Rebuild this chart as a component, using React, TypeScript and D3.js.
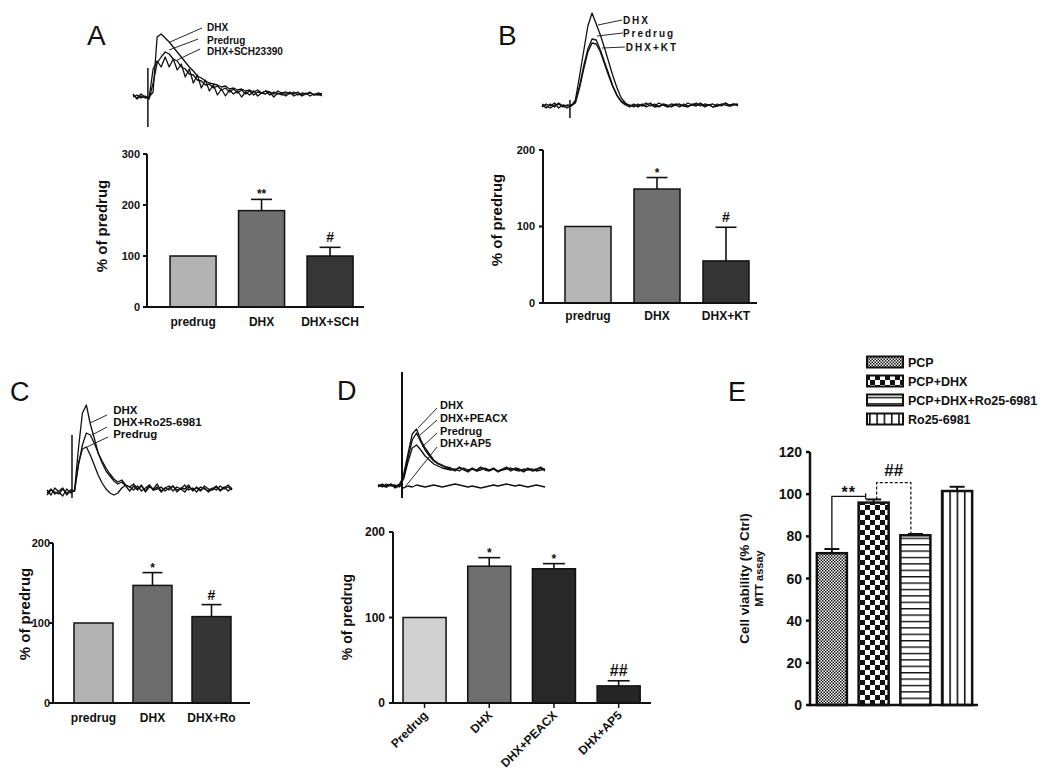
import React from 'react';
import * as d3 from 'd3';

const FONT = "'Liberation Sans', Arial, Helvetica, sans-serif";

// ---------------- DATA ----------------
// Panel A traces (amplitude, arbitrary units, evenly sampled)
const traceA_DHX = [3,-2,1,-1,0,5,60,63,59,55,50,45,40,35,30,26,21,19,16,14,13,12,10,11,8,9,7,8,6,7,5,7,4,6,5,3,6,4,5,3,5,2,4,3,5,2,4,3];
const traceA_Pre = [2,-1,3,0,-2,14,34,40,45,43,38,36,30,28,23,22,17,16,12,13,9,11,7,9,5,8,4,7,3,6,2,5,4,6,2,5,3,4,1,4,3,5,1,3,4,2,3,1];
const traceA_SCH = [0,2,-1,1,-1,28,36,30,40,30,38,27,33,20,28,14,22,9,17,6,12,2,8,1,7,3,6,0,5,2,6,1,4,3,5,0,4,2,3,5,1,3,2,4,1,3,2,3];
const labelsA = ['DHX', 'Predrug', 'DHX+SCH23390'];

const traceB_DHX = [1,-2,2,-1,3,0,-2,0,6,30,55,80,93,82,71,58,44,30,18,8,3,0,2,-1,1,3,0,2,-1,1,0,2,1,-1,2,0,1,3,0,2,1,-1,2,0,3,1,2,0];
const traceB_Pre = [-1,2,0,3,-2,1,0,1,4,20,40,57,67,66,56,44,32,20,11,5,2,1,-1,2,0,1,3,-1,0,2,1,-1,1,2,0,3,1,0,2,-1,1,2,0,1,3,0,1,2];
const traceB_KT = [2,0,-2,1,2,-1,1,0,3,18,37,54,63,62,54,42,30,19,10,4,1,-1,1,0,2,-1,1,0,3,1,-1,0,2,1,0,-1,2,1,3,0,1,-1,0,2,1,0,2,1];
const labelsB = ['DHX', 'Predrug', 'DHX+KT'];

const traceC_DHX = [3,-2,5,1,-3,4,0,3,45,80,88,69,55,40,30,22,17,12,9,11,7,2,7,3,8,1,6,4,9,2,5,3,7,1,5,4,8,2,6,3,5,1,4,7,3,6,2,5];
const traceC_Ro = [0,4,-1,2,5,-2,3,2,28,48,60,58,50,40,32,25,19,14,11,13,8,6,9,4,7,2,8,3,6,1,5,7,2,6,4,8,3,5,1,6,4,2,5,3,7,4,6,3];
const traceC_Pre = [-2,3,1,-1,4,0,2,2,30,44,46,38,28,18,10,4,0,-2,0,5,8,6,3,7,2,5,8,3,4,6,2,5,7,3,4,1,6,3,5,2,7,4,3,6,2,5,8,4];
const labelsC = ['DHX', 'DHX+Ro25-6981', 'Predrug'];

const traceD_DHX = [1,-1,2,0,1,-1,12,32,52,57,46,38,32,26,23,21,19,18,16,19,17,15,18,16,19,17,16,18,15,17,19,16,18,17,15,18,16,17,19,16];
const traceD_PEACX = [0,2,-1,1,-1,2,9,28,46,53,44,36,30,25,22,20,18,17,15,18,16,14,17,15,18,16,15,17,14,16,18,15,17,16,14,17,15,16,18,15];
const traceD_Pre = [-1,1,0,2,-2,0,7,24,38,41,36,30,26,22,20,18,17,16,17,15,18,16,17,15,16,18,16,17,15,16,17,18,16,15,17,16,17,15,16,17];
const traceD_AP5 = [1,0,-1,2,0,1,-2,0,-1,1,0,-1,0,1,0,-1,0,1,2,1,0,-1,0,-1,-2,-1,0,1,0,1,2,1,0,1,0,-1,0,1,0,-1];
const labelsD = ['DHX', 'DHX+PEACX', 'Predrug', 'DHX+AP5'];

// Bar charts
const catsA = ['predrug', 'DHX', 'DHX+SCH'];
const valsA = [100, 189, 100];
const errsA = [0, 22, 17];
const sigsA = ['', '**', '#'];

const catsB = ['predrug', 'DHX', 'DHX+KT'];
const valsB = [100, 149, 55];
const errsB = [0, 15, 44];
const sigsB = ['', '*', '#'];

const catsC = ['predrug', 'DHX', 'DHX+Ro'];
const valsC = [100, 147, 108];
const errsC = [0, 16, 15];
const sigsC = ['', '*', '#'];

const catsD = ['Predrug', 'DHX', 'DHX+PEACX', 'DHX+AP5'];
const valsD = [100, 160, 157, 20];
const errsD = [0, 10, 6, 6];
const sigsD = ['', '*', '*', '##'];

const catsE = ['PCP', 'PCP+DHX', 'PCP+DHX+Ro25-6981', 'Ro25-6981'];
const valsE = [72, 96, 80.5, 101.5];
const errsE = [2, 1.5, 0.6, 2];
const bracketsE = [
  { from: 0, to: 1, level: 99, label: '**', dashed: false },
  { from: 1, to: 2, level: 105.5, label: '##', dashed: true },
];

const ticksA = [0, 100, 200, 300];
const ticks200 = [0, 100, 200];
const ticksE = [0, 20, 40, 60, 80, 100, 120];

// ---------------- LAYOUT ----------------
const LtA = { x0: 133, x1: 322, yBase: 97, art: [3.7, -30, 29], fs: 10, ls: 0,
  labelPos: [[18.4, 66], [18.4, 53.4], [18.4, 42.4]],
  leaders: [[17.16, 69, 9.2, 55], [16.2, 58, 8.96, 47], [16.7, 48, 10.95, 37]] };
const LtB = { x0: 542, x1: 738, yBase: 106, art: [6.7, -12, 6], fs: 10, ls: 2,
  labelPos: [[19.4, 82.4], [19.4, 69.4], [20.1, 55.4]],
  leaders: [[19.2, 86, 13.4, 81], [19.4, 73, 13.2, 70], [19.9, 59, 14.4, 58]] };
const LtC = { x0: 47, x1: 232, yBase: 493, art: [6.35, -5, 58], fs: 11.5, ls: 0,
  labelPos: [[16.8, 79], [16.8, 67], [16.8, 55]],
  leaders: [[15.24, 78, 10.92, 70], [15.24, 66, 11.43, 58], [15.5, 56, 10.16, 46]] };
const LtD = { x0: 378, x1: 545, yBase: 486, art: [5.6, -12, 114], fs: 11, ls: 0, artW: 2,
  labelPos: [[14.5, 77.2], [14.5, 64.2], [14.5, 51.2], [14.5, 38.7]],
  leaders: [[13.79, 78, 9.35, 58], [13.79, 66, 9.81, 51], [13.79, 53, 10.28, 39], [13.79, 39, 6.31, -1]] };

const LbA = { axisX: 147, xEnd: 364, y0: 307, yTop: 154, yMax: 300, ticks: ticksA, band: [158.8, 364.3], pad: 0.328,
  fills: ['#b2b2b2', '#6f6f6f', '#363636'], tickFs: 11, tickGap: 7, xLabY: 326, xLabFs: 12,
  yLab: { x: 102, y: 226, fs: 15 }, capW: 21 };
const LbB = { axisX: 543, xEnd: 757, y0: 303, yTop: 150, yMax: 200, ticks: ticks200, band: [553.5, 760.5], pad: 0.333,
  fills: ['#b6b6b6', '#6e6e6e', '#343434'], tickFs: 11, tickGap: 8, xLabY: 320, xLabFs: 12,
  yLab: { x: 497, y: 220, fs: 15 }, capW: 21 };
const LbC = { axisX: 53, xEnd: 250, y0: 703, yTop: 543, yMax: 200, ticks: ticks200, band: [64, 241], pad: 0.339,
  fills: ['#b3b3b3', '#6c6c6c', '#353535'], tickFs: 11, tickGap: 3, xLabY: 722, xLabFs: 12,
  yLab: { x: 25, y: 614, fs: 15 }, capW: 20 };
const LbD = { axisX: 393, xEnd: 651, y0: 703, yTop: 532, yMax: 200, ticks: ticks200, band: [392.2, 651], pad: 0.335,
  fills: ['#d0d0d0', '#6e6e6e', '#282828', '#262626'], tickFs: 12, tickGap: 8, xLabY: 716, xLabFs: 12, rotate: true, xTicks: true,
  yLab: { x: 347, y: 617, fs: 14 }, capW: 22 };
const LbE = { axisX: 810, xEnd: 978, y0: 705, yTop: 452, yMax: 120, ticks: ticksE, band: [811, 978], pad: 0.28,
  fills: ['url(#pFine)', 'url(#pCheck)', 'url(#pHoriz)', 'url(#pVert)'], tickFs: 14, tickGap: 8, noXLabels: true,
  barStroke: 2.5, axisW: 2.5, capW: 15 };

const legendE = { x: 867, w: 36, h: 11, rows: [362, 381, 400, 419], textX: 908, fs: 12.5 };

// ---------------- COMPONENTS ----------------
function TracePanel({ series, labels, L }: any) {
  const n = series[0].length;
  const x = d3.scaleLinear().domain([0, n - 1]).range([L.x0, L.x1]);
  const y = d3.scaleLinear().domain([0, 100]).range([L.yBase, L.yBase - 100]);
  const line = d3.line<number>().x((_, i) => x(i)).y((d) => y(d)).curve(d3.curveLinear);
  return (
    <g>
      {series.map((s: number[], i: number) => (
        <path key={i} d={line(s) || ''} fill="none" stroke="#111" strokeWidth={1.3} strokeLinejoin="round" />
      ))}
      <line x1={x(L.art[0])} x2={x(L.art[0])} y1={y(L.art[1])} y2={y(L.art[2])} stroke="#111" strokeWidth={L.artW || 1.5} />
      {labels.map((lab: string, i: number) => (
        <text key={i} x={x(L.labelPos[i][0])} y={y(L.labelPos[i][1])} fontSize={L.fs} fontWeight="bold" letterSpacing={L.ls} fill="#111">{lab}</text>
      ))}
      {L.leaders.map((l: number[], i: number) => (
        <line key={i} x1={x(l[0])} y1={y(l[1])} x2={x(l[2])} y2={y(l[3])} stroke="#111" strokeWidth={0.9} />
      ))}
    </g>
  );
}

function scalesFor(cats: string[], L: any) {
  const x = d3.scaleBand<string>().domain(cats).range(L.band).paddingInner(L.pad).paddingOuter(L.pad / 2);
  const y = d3.scaleLinear().domain([0, L.yMax]).range([L.y0, L.yTop]);
  return { x, y };
}

function BarPanel({ cats, vals, errs, sigs, L }: any) {
  const { x, y } = scalesFor(cats, L);
  const bw = x.bandwidth();
  const sw = L.barStroke || 1.5;
  const aw = L.axisW || 2;
  return (
    <g>
      {cats.map((c: string, i: number) => {
        const cx = (x(c) as number) + bw / 2;
        const top = y(vals[i]);
        const et = y(vals[i] + errs[i]);
        return (
          <g key={c}>
            <rect x={x(c)} y={top} width={bw} height={L.y0 - top} fill={L.fills[i]} stroke="#111" strokeWidth={sw} />
            {errs[i] > 0 && (
              <g stroke="#111" strokeWidth={L.barStroke ? 2 : 1.6}>
                <line x1={cx} x2={cx} y1={top} y2={et} />
                <line x1={cx - L.capW / 2} x2={cx + L.capW / 2} y1={et} y2={et} />
              </g>
            )}
            {sigs && sigs[i] && (
              <text x={cx} y={sigs[i].includes('#') ? et - 5 : et - 1} textAnchor="middle" fontWeight="bold"
                fontSize={sigs[i].includes('#') ? (sigs[i].length > 1 ? 16 : 14) : 12} fill="#111">{sigs[i]}</text>
            )}
          </g>
        );
      })}
      <line x1={L.axisX} x2={L.axisX} y1={L.y0 + aw / 2} y2={L.yTop} stroke="#111" strokeWidth={aw} />
      <line x1={L.axisX} x2={L.xEnd} y1={L.y0} y2={L.y0} stroke="#111" strokeWidth={aw} />
      {L.ticks.map((t: number) => (
        <g key={t}>
          <line x1={L.axisX - 4} x2={L.axisX} y1={y(t)} y2={y(t)} stroke="#111" strokeWidth={aw} />
          <text x={L.axisX - L.tickGap} y={y(t)} dy="0.36em" textAnchor="end" fontSize={L.tickFs} fontWeight="bold" fill="#111">{t}</text>
        </g>
      ))}
      {!L.noXLabels && cats.map((c: string) => {
        const cx = (x(c) as number) + bw / 2;
        return L.rotate ? (
          <g key={c}>
            {L.xTicks && <line x1={cx} x2={cx} y1={L.y0} y2={L.y0 + 5} stroke="#111" strokeWidth={1.5} />}
            <text transform={`translate(${cx + 4},${L.xLabY}) rotate(-45)`} textAnchor="end" fontSize={L.xLabFs} fontWeight="bold" fill="#111">{c}</text>
          </g>
        ) : (
          <text key={c} x={cx} y={L.xLabY} textAnchor="middle" fontSize={L.xLabFs} fontWeight="bold" fill="#111">{c}</text>
        );
      })}
      {L.yLab && (
        <text transform={`translate(${L.yLab.x},${L.yLab.y}) rotate(-90)`} dy="0.35em" textAnchor="middle" fontSize={L.yLab.fs} fontWeight="bold" fill="#111">% of predrug</text>
      )}
    </g>
  );
}

function PanelE() {
  const { x, y } = scalesFor(catsE, LbE);
  const bw = x.bandwidth();
  const cx = (i: number) => (x(catsE[i]) as number) + bw / 2;
  const b0 = bracketsE[0];
  const b1 = bracketsE[1];
  const lx0 = cx(b0.from), rx0 = cx(b0.to) - 8;
  const lx1 = cx(b1.from) + 3, rx1 = cx(b1.to) - 4.5;
  return (
    <g>
      <BarPanel cats={catsE} vals={valsE} errs={errsE} sigs={null} L={LbE} />
      <path d={`M${lx0},${y(valsE[b0.from] + errsE[b0.from])} V${y(b0.level)} H${rx0}`} fill="none" stroke="#111" strokeWidth={1.3} />
      <line x1={rx0} x2={rx0} y1={y(b0.level) - 3} y2={y(b0.level) + 3} stroke="#111" strokeWidth={1.3} />
      <text x={(lx0 + rx0) / 2} y={y(b0.level) + 2} textAnchor="middle" fontSize={16} fontWeight="bold" letterSpacing={1} fill="#111">{b0.label}</text>
      <path d={`M${lx1},${y(valsE[b1.from] + errsE[b1.from])} V${y(b1.level)} H${rx1} V${y(valsE[b1.to] + errsE[b1.to])}`} fill="none" stroke="#111" strokeWidth={1.2} strokeDasharray="3,2" />
      <text x={(lx1 + rx1) / 2} y={y(b1.level) - 7} textAnchor="middle" fontSize={17} fontWeight="bold" fill="#111">{b1.label}</text>
      <g transform={`translate(744,${(LbE.y0 + LbE.yTop) / 2}) rotate(-90)`}>
        <text textAnchor="middle" dy="0.35em" fontSize={13.5} fontWeight="bold" fill="#111">Cell viability (% Ctrl)</text>
        <text textAnchor="middle" dy="0.35em" y={15} fontSize={11} fontWeight="bold" fill="#111">MTT assay</text>
      </g>
      {catsE.map((c, i) => (
        <g key={c}>
          <rect x={legendE.x} y={legendE.rows[i] - legendE.h / 2} width={legendE.w} height={legendE.h} fill={LbE.fills[i]} stroke="#111" strokeWidth={2} />
          <text x={legendE.textX} y={legendE.rows[i]} dy="0.36em" fontSize={legendE.fs} fontWeight="bold" fill="#111">{c}</text>
        </g>
      ))}
    </g>
  );
}

export default function App() {
  return (
    <svg width={1050} height={777} viewBox="0 0 1050 777" fontFamily={FONT}
      style={{ position: 'absolute', left: 0, top: 0, display: 'block', background: '#fff' }}>
      <defs>
        <pattern id="pFine" width={3} height={3} patternUnits="userSpaceOnUse">
          <rect width={3} height={3} fill="#fff" />
          <rect width={1.5} height={1.5} fill="#111" />
          <rect x={1.5} y={1.5} width={1.5} height={1.5} fill="#111" />
        </pattern>
        <pattern id="pCheck" width={10} height={10} patternUnits="userSpaceOnUse">
          <rect width={10} height={10} fill="#fff" />
          <rect width={5} height={5} fill="#111" />
          <rect x={5} y={5} width={5} height={5} fill="#111" />
        </pattern>
        <pattern id="pHoriz" width={6} height={6.4} patternUnits="userSpaceOnUse">
          <rect width={6} height={6.4} fill="#fff" />
          <rect width={6} height={1.4} fill="#111" />
        </pattern>
        <pattern id="pVert" width={7.3} height={6} patternUnits="userSpaceOnUse" x={942}>
          <rect width={7.3} height={6} fill="#fff" />
          <rect width={1.6} height={6} fill="#111" />
        </pattern>
      </defs>
      <rect width={1050} height={777} fill="#fff" />

      <text x={87} y={45} fontSize={28} fill="#111">A</text>
      <text x={498} y={45} fontSize={28} fill="#111">B</text>
      <text x={10} y={401} fontSize={27} fill="#111">C</text>
      <text x={337} y={400} fontSize={27} fill="#111">D</text>
      <text x={728} y={401} fontSize={27} fill="#111">E</text>

      <TracePanel series={[traceA_DHX, traceA_Pre, traceA_SCH]} labels={labelsA} L={LtA} />
      <TracePanel series={[traceB_DHX, traceB_Pre, traceB_KT]} labels={labelsB} L={LtB} />
      <TracePanel series={[traceC_DHX, traceC_Ro, traceC_Pre]} labels={labelsC} L={LtC} />
      <TracePanel series={[traceD_DHX, traceD_PEACX, traceD_Pre, traceD_AP5]} labels={labelsD} L={LtD} />

      <BarPanel cats={catsA} vals={valsA} errs={errsA} sigs={sigsA} L={LbA} />
      <BarPanel cats={catsB} vals={valsB} errs={errsB} sigs={sigsB} L={LbB} />
      <BarPanel cats={catsC} vals={valsC} errs={errsC} sigs={sigsC} L={LbC} />
      <BarPanel cats={catsD} vals={valsD} errs={errsD} sigs={sigsD} L={LbD} />
      <PanelE />
    </svg>
  );
}
